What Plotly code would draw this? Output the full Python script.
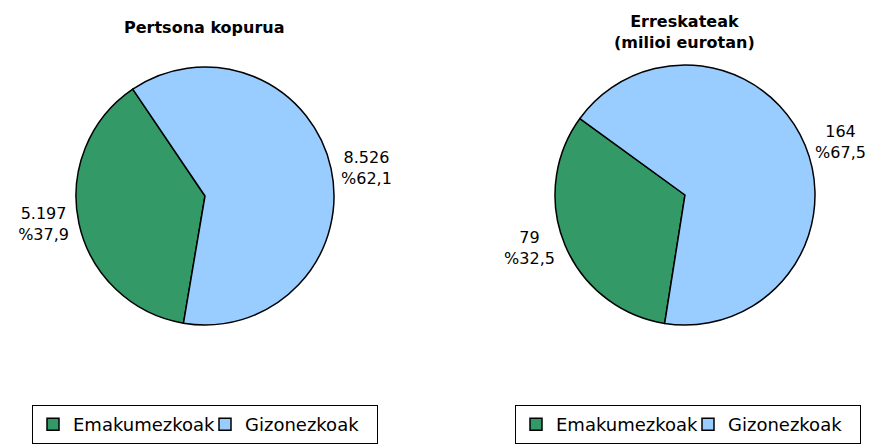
import plotly.graph_objects as go

categories = ["Emakumezkoak", "Gizonezkoak"]
pertsonak = [5197, 8526]
pertsonak_txt = ["5.197", "8.526"]
pertsonak_pct = ["%37,9", "%62,1"]
erreskateak = [79, 164]
erreskateak_txt = ["79", "164"]
erreskateak_pct = ["%32,5", "%67,5"]
titles = ["Pertsona kopurua", "Erreskateak<br>(milioi eurotan)"]

colors = ["#339966", "#99CCFF"]
FONT = "DejaVu Sans, Verdana, Arial"
W, H = 877, 445

def px(x0, x1):
    return [x0 / W, x1 / W]

def py(top, bottom):
    return [1 - bottom / H, 1 - top / H]

fig = go.Figure()
fig.add_trace(go.Pie(
    labels=categories, values=pertsonak,
    text=[f"{a}<br>{b}" for a, b in zip(pertsonak_txt, pertsonak_pct)],
    textinfo="text", textposition="outside",
    textfont=dict(size=16, color="black", family=FONT),
    marker=dict(colors=colors, line=dict(color="black", width=1.5)),
    sort=False, direction="clockwise", rotation=189.6,
    domain=dict(x=px(76, 334), y=py(67, 325)),
    legend="legend", legendgroup="p1", hoverinfo="label+value+percent",
))
fig.add_trace(go.Pie(
    labels=categories, values=erreskateak,
    text=[f"{a}<br>{b}" for a, b in zip(erreskateak_txt, erreskateak_pct)],
    textinfo="text", textposition="outside",
    textfont=dict(size=16, color="black", family=FONT),
    marker=dict(colors=colors, line=dict(color="black", width=1.5)),
    sort=False, direction="clockwise", rotation=189,
    domain=dict(x=px(555, 815), y=py(65, 325)),
    legend="legend2", legendgroup="p2", hoverinfo="label+value+percent",
))

legend_style = dict(
    orientation="h", yanchor="top", xanchor="left", traceorder="normal",
    bordercolor="black", borderwidth=1, bgcolor="white",
    entrywidthmode="pixels", entrywidth=127,
    font=dict(size=18, color="black", family=FONT),
)
fig.update_layout(
    width=W, height=H,
    margin=dict(l=0, r=0, t=0, b=0, autoexpand=False),
    paper_bgcolor="white", plot_bgcolor="white",
    font=dict(family=FONT, color="black"),
    showlegend=True,
    legend=dict(x=32 / W, y=1 - 405 / H, **legend_style),
    legend2=dict(x=515 / W, y=1 - 405 / H, **legend_style),
    annotations=[
        dict(text="<b>" + titles[0] + "</b>", x=204 / W, y=1 - 28 / H,
             xref="paper", yref="paper", showarrow=False,
             font=dict(size=16, color="black", family=FONT),
             xanchor="center", yanchor="middle"),
        dict(text="<b>" + titles[1] + "</b>", x=684 / W, y=1 - 32 / H,
             xref="paper", yref="paper", showarrow=False,
             font=dict(size=16, color="black", family=FONT),
             xanchor="center", yanchor="middle"),
    ],
)

fig.write_html("out.html", config={"displayModeBar": False},
               post_script="document.body.style.margin='0';")
